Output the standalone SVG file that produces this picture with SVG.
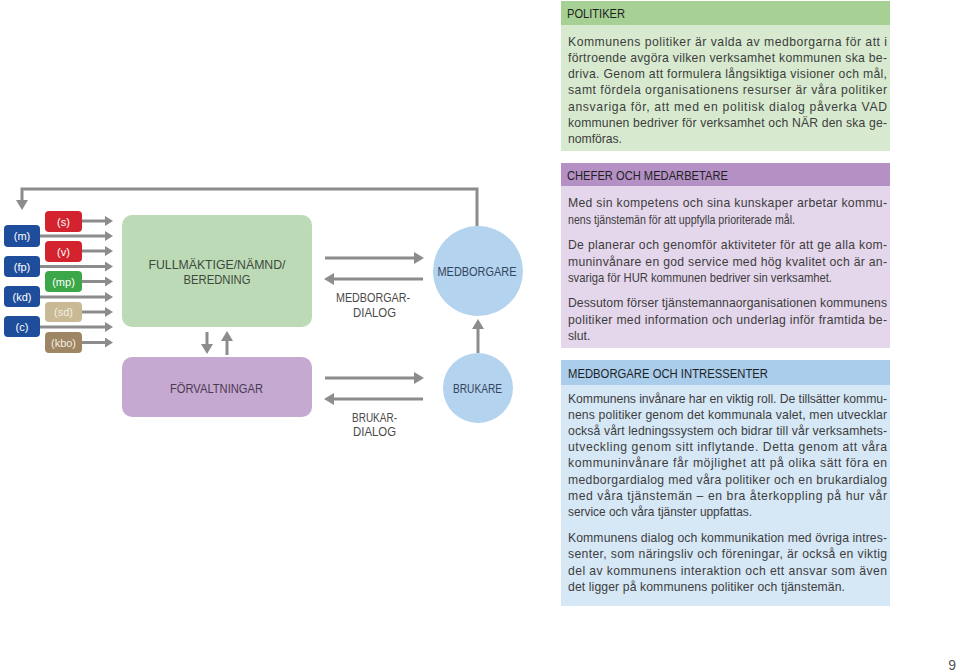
<svg xmlns="http://www.w3.org/2000/svg" width="960" height="672" viewBox="0 0 960 672">
<style>
.pt{font-family:"Liberation Sans",Arial,sans-serif;font-size:12.2px;fill:#3d3d3d}
.hd{font-family:"Liberation Sans",Arial,sans-serif;font-size:12px;fill:#1f1f1f}
.lb{font-family:"Liberation Sans",Arial,sans-serif;font-size:12px;text-anchor:middle}
.py{font-family:"Liberation Sans",Arial,sans-serif;font-size:11px;text-anchor:middle;fill:#ffffff}
.ar{stroke:#8c8c8c;stroke-width:3;fill:none}
</style>
<defs>
<marker id="ah" markerUnits="userSpaceOnUse" markerWidth="10" markerHeight="12" refX="4" refY="6" orient="auto" viewBox="0 0 10 12">
<path d="M0,0 L10,6 L0,12 z" fill="#8c8c8c"/>
</marker>
<marker id="ahs" markerUnits="userSpaceOnUse" markerWidth="8" markerHeight="10" refX="3" refY="5" orient="auto" viewBox="0 0 8 10">
<path d="M0,0 L8,5 L0,10 z" fill="#8c8c8c"/>
</marker>
</defs>
<rect width="960" height="672" fill="#ffffff"/>

<!-- Panels -->
<g id="panel-politiker">
<rect x="561" y="1" width="329" height="150" fill="#d7eacf"/>
<rect x="561" y="1" width="329" height="24" fill="#a6d094"/>
<text class="hd" x="567" y="18" textLength="58" lengthAdjust="spacingAndGlyphs">POLITIKER</text>
<text class="pt" x="568" y="46" textLength="319" lengthAdjust="spacing">Kommunens politiker är valda av medborgarna för att i</text>
<text class="pt" x="568" y="62" textLength="319" lengthAdjust="spacing">förtroende avgöra vilken verksamhet kommunen ska be-</text>
<text class="pt" x="568" y="78" textLength="319" lengthAdjust="spacing">driva. Genom att formulera långsiktiga visioner och mål,</text>
<text class="pt" x="568" y="94" textLength="319" lengthAdjust="spacing">samt fördela organisationens resurser är våra politiker</text>
<text class="pt" x="568" y="111" textLength="319" lengthAdjust="spacing">ansvariga för, att med en politisk dialog påverka VAD</text>
<text class="pt" x="568" y="127" textLength="319" lengthAdjust="spacing">kommunen bedriver för verksamhet och NÄR den ska ge-</text>
<text class="pt" x="568" y="143" textLength="54" lengthAdjust="spacing">nomföras.</text>
</g>

<g id="panel-chefer">
<rect x="561" y="163" width="329" height="185" fill="#e4d6eb"/>
<rect x="561" y="163" width="329" height="23" fill="#b490c4"/>
<text class="hd" x="567" y="179.5" textLength="161" lengthAdjust="spacingAndGlyphs">CHEFER OCH MEDARBETARE</text>
<text class="pt" x="568" y="207" textLength="319" lengthAdjust="spacing">Med sin kompetens och sina kunskaper arbetar kommu-</text>
<text class="pt" x="568" y="223.5" textLength="227" lengthAdjust="spacingAndGlyphs">nens tjänstemän för att uppfylla prioriterade mål.</text>
<text class="pt" x="568" y="249" textLength="319" lengthAdjust="spacing">De planerar och genomför aktiviteter för att ge alla kom-</text>
<text class="pt" x="568" y="265.5" textLength="319" lengthAdjust="spacing">muninvånare en god service med hög kvalitet och är an-</text>
<text class="pt" x="568" y="282" textLength="264" lengthAdjust="spacingAndGlyphs">svariga för HUR kommunen bedriver sin verksamhet.</text>
<text class="pt" x="568" y="307" textLength="319" lengthAdjust="spacing">Dessutom förser tjänstemannaorganisationen kommunens</text>
<text class="pt" x="568" y="323.5" textLength="319" lengthAdjust="spacing">politiker med information och underlag inför framtida be-</text>
<text class="pt" x="568" y="340">slut.</text>
</g>

<g id="panel-medborgare">
<rect x="561" y="360" width="329" height="246" fill="#d6e7f6"/>
<rect x="561" y="360" width="329" height="25" fill="#a9cdeb"/>
<text class="hd" x="568" y="377.5" textLength="200" lengthAdjust="spacingAndGlyphs">MEDBORGARE OCH INTRESSENTER</text>
<text class="pt" x="568" y="402.5" textLength="319" lengthAdjust="spacing">Kommunens invånare har en viktig roll. De tillsätter kommu-</text>
<text class="pt" x="568" y="418.5" textLength="319" lengthAdjust="spacing">nens politiker genom det kommunala valet, men utvecklar</text>
<text class="pt" x="568" y="435" textLength="319" lengthAdjust="spacing">också vårt ledningssystem och bidrar till vår verksamhets-</text>
<text class="pt" x="568" y="451" textLength="319" lengthAdjust="spacing">utveckling genom sitt inflytande. Detta genom att våra</text>
<text class="pt" x="568" y="467" textLength="319" lengthAdjust="spacing">kommuninvånare får möjlighet att på olika sätt föra en</text>
<text class="pt" x="568" y="483.5" textLength="319" lengthAdjust="spacing">medborgardialog med våra politiker och en brukardialog</text>
<text class="pt" x="568" y="499.5" textLength="319" lengthAdjust="spacing">med våra tjänstemän – en bra återkoppling på hur vår</text>
<text class="pt" x="568" y="516" textLength="184" lengthAdjust="spacingAndGlyphs">service och våra tjänster uppfattas.</text>
<text class="pt" x="568" y="542" textLength="319" lengthAdjust="spacing">Kommunens dialog och kommunikation med övriga intres-</text>
<text class="pt" x="568" y="558" textLength="319" lengthAdjust="spacing">senter, som näringsliv och föreningar, är också en viktig</text>
<text class="pt" x="568" y="574.5" textLength="319" lengthAdjust="spacing">del av kommunens interaktion och ett ansvar som även</text>
<text class="pt" x="568" y="590.5" textLength="277" lengthAdjust="spacing">det ligger på kommunens politiker och tjänstemän.</text>
</g>

<!-- Connectors -->
<g id="connectors">
<path class="ar" d="M477,226 V189 H22 V204" marker-end="url(#ah)"/>
<line class="ar" x1="82" y1="221" x2="108" y2="221" marker-end="url(#ahs)"/>
<line class="ar" x1="40" y1="236" x2="108" y2="236" marker-end="url(#ahs)"/>
<line class="ar" x1="82" y1="251" x2="108" y2="251" marker-end="url(#ahs)"/>
<line class="ar" x1="40" y1="266.5" x2="108" y2="266.5" marker-end="url(#ahs)"/>
<line class="ar" x1="82" y1="281.5" x2="108" y2="281.5" marker-end="url(#ahs)"/>
<line class="ar" x1="40" y1="297" x2="108" y2="297" marker-end="url(#ahs)"/>
<line class="ar" x1="82" y1="312" x2="108" y2="312" marker-end="url(#ahs)"/>
<line class="ar" x1="40" y1="327" x2="108" y2="327" marker-end="url(#ahs)"/>
<line class="ar" x1="82" y1="342.5" x2="108" y2="342.5" marker-end="url(#ahs)"/>
<line class="ar" x1="207" y1="332" x2="207" y2="348" marker-end="url(#ah)"/>
<line class="ar" x1="227" y1="355" x2="227" y2="337" marker-end="url(#ah)"/>
<line class="ar" x1="325" y1="258" x2="418" y2="258" marker-end="url(#ah)"/>
<line class="ar" x1="423" y1="279" x2="330" y2="279" marker-end="url(#ah)"/>
<line class="ar" x1="325" y1="378" x2="418" y2="378" marker-end="url(#ah)"/>
<line class="ar" x1="423" y1="399" x2="330" y2="399" marker-end="url(#ah)"/>
<line class="ar" x1="478" y1="353" x2="478" y2="325" marker-end="url(#ah)"/>
</g>

<!-- Party boxes -->
<g id="party-m"><rect x="4" y="225" width="36" height="22" rx="4" fill="#1e4d9b"/><text class="py" x="22" y="240">(m)</text></g>
<g id="party-fp"><rect x="4" y="256" width="36" height="21" rx="4" fill="#1e4d9b"/><text class="py" x="22" y="270.5">(fp)</text></g>
<g id="party-kd"><rect x="4" y="286" width="36" height="21" rx="4" fill="#1e4d9b"/><text class="py" x="22" y="300.5">(kd)</text></g>
<g id="party-c"><rect x="4" y="316" width="36" height="21" rx="4" fill="#1e4d9b"/><text class="py" x="22" y="330.5">(c)</text></g>
<g id="party-s"><rect x="45" y="211" width="37" height="21" rx="4" fill="#d3232e"/><text class="py" x="63.5" y="225.5">(s)</text></g>
<g id="party-v"><rect x="45" y="241" width="37" height="21" rx="4" fill="#d3232e"/><text class="py" x="63.5" y="255.5">(v)</text></g>
<g id="party-mp"><rect x="45" y="271" width="37" height="21" rx="4" fill="#3ca748"/><text class="py" x="63.5" y="285.5">(mp)</text></g>
<g id="party-sd"><rect x="45" y="302" width="37" height="20" rx="4" fill="#c9b994"/><text class="py" x="63.5" y="316" style="fill:#f3eee2">(sd)</text></g>
<g id="party-kbo"><rect x="45" y="332" width="37" height="21" rx="4" fill="#9e8664"/><text class="py" x="63.5" y="346.5" style="fill:#f3eee2">(kbo)</text></g>

<!-- Main nodes -->
<g id="fullmaktige">
<rect x="122" y="215" width="190" height="112" rx="10" fill="#bcdab5"/>
<text class="lb" x="217" y="269" fill="#3e4a3e" textLength="137" lengthAdjust="spacingAndGlyphs">FULLMÄKTIGE/NÄMND/</text>
<text class="lb" x="217" y="283.5" fill="#3e4a3e" textLength="67" lengthAdjust="spacingAndGlyphs">BEREDNING</text>
</g>
<g id="forvaltningar">
<rect x="122" y="357" width="190" height="60" rx="10" fill="#c5a9d1"/>
<text class="lb" x="216.5" y="393" fill="#4a3a52" textLength="93" lengthAdjust="spacingAndGlyphs">FÖRVALTNINGAR</text>
</g>
<g id="medborgardialog">
<text class="lb" x="373" y="302" fill="#4a4a4a" textLength="74" lengthAdjust="spacingAndGlyphs">MEDBORGAR-</text>
<text class="lb" x="374.5" y="316.5" fill="#4a4a4a" textLength="43" lengthAdjust="spacingAndGlyphs">DIALOG</text>
</g>
<g id="brukardialog">
<text class="lb" x="374.5" y="422" fill="#4a4a4a" textLength="45" lengthAdjust="spacingAndGlyphs">BRUKAR-</text>
<text class="lb" x="374.5" y="435.5" fill="#4a4a4a" textLength="43" lengthAdjust="spacingAndGlyphs">DIALOG</text>
</g>
<g id="medborgare">
<circle cx="478" cy="271" r="45" fill="#b3d3ef"/>
<text class="lb" x="477" y="275.5" fill="#34455e" textLength="79" lengthAdjust="spacingAndGlyphs">MEDBORGARE</text>
</g>
<g id="brukare">
<circle cx="478" cy="388" r="35" fill="#b3d3ef"/>
<text class="lb" x="477.5" y="392.5" fill="#34455e" textLength="49" lengthAdjust="spacingAndGlyphs">BRUKARE</text>
</g>

<text x="956" y="670" font-family="Liberation Sans, Arial, sans-serif" font-size="14" fill="#555555" text-anchor="end">9</text>
</svg>
